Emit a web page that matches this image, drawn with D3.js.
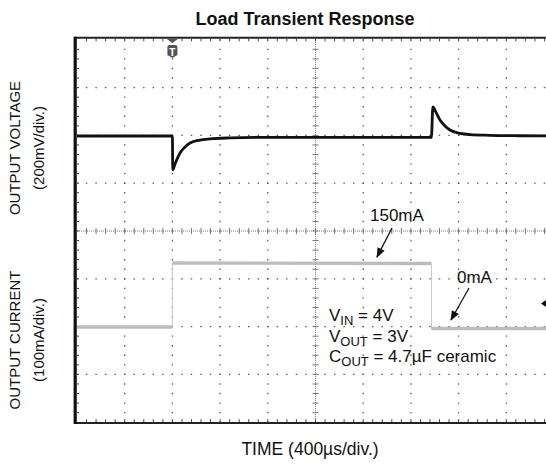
<!DOCTYPE html>
<html>
<head>
<meta charset="utf-8">
<script src="https://d3js.org/d3.v7.min.js"></script>
<style>
  body { margin: 0; background: #fff; }
  text { font-family: "Liberation Sans", Arial, sans-serif; fill: #111; }
</style>
</head>
<body>
<svg id="chart" width="546" height="468"></svg>
<script>
// time axis (us), 400us/div, 10 divisions
var timeDomain = [0, 4000];

// output voltage deviation (mV), 200mV/div
var voltT  = [0, 800, 803, 822, 864, 906, 948, 1031, 1115, 1283, 1535, 1870, 2972, 2984, 3010, 3044, 3086, 3128, 3212, 3296, 3463, 3700, 4000];
var voltMv = [0, 0, -142, -117, -71, -46, -29, -17, -12, -8, -6, -6, -6, 122, 100, 67, 42, 25, 11, 6, 3, 1, 0];

// output current (mA), 100mA/div
var currT  = [0, 800, 800, 2972, 2972, 4000];
var currMa = [0, 0, 134, 133, -3, -3];

var svg = d3.select("#chart");

var x0 = 77, y0 = 39.8, divX = 47.7, divY = 47.8;
var x = d3.scaleLinear().domain(timeDomain).range([x0, x0 + 10 * divX]);
var yV = d3.scaleLinear().domain([0, 200]).range([136, 136 - divY]);
var yI = d3.scaleLinear().domain([0, 100]).range([327, 327 - divY]);

var xR = x0 + 10 * divX, yB = y0 + 8 * divY;

// dotted graticule
var g = svg.append("g");
for (var k = 1; k < 8; k++) {
  if (k == 4) continue;
  g.append("line")
    .attr("x1", x0).attr("x2", xR)
    .attr("y1", y0 + k * divY).attr("y2", y0 + k * divY)
    .attr("stroke", "#555").attr("stroke-width", 1.3)
    .attr("stroke-dasharray", "1.4 " + (divX / 5 - 1.4))
    .attr("stroke-dashoffset", 0.7);
}
for (var k = 1; k < 10; k++) {
  if (k == 5) continue;
  g.append("line")
    .attr("y1", y0).attr("y2", yB)
    .attr("x1", x0 + k * divX).attr("x2", x0 + k * divX)
    .attr("stroke", "#555").attr("stroke-width", 1.3)
    .attr("stroke-dasharray", "1.4 " + (divY / 5 - 1.4))
    .attr("stroke-dashoffset", 0.7);
}

// center axes with minor ticks
var cy = y0 + 4 * divY, cx = x0 + 5 * divX;
g.append("line").attr("x1", x0).attr("x2", xR).attr("y1", cy).attr("y2", cy)
  .attr("stroke", "#777").attr("stroke-width", 1).attr("stroke-dasharray", "1 1");
g.append("line").attr("y1", y0).attr("y2", yB).attr("x1", cx).attr("x2", cx)
  .attr("stroke", "#777").attr("stroke-width", 1).attr("stroke-dasharray", "1 1");
for (var m = 1; m < 50; m++) {
  var px = x0 + m * divX / 5;
  g.append("line").attr("x1", px).attr("x2", px).attr("y1", cy - 3).attr("y2", cy + 3)
    .attr("stroke", "#777").attr("stroke-width", 1);
  g.append("line").attr("x1", px).attr("x2", px).attr("y1", yB - 3).attr("y2", yB)
    .attr("stroke", "#444").attr("stroke-width", 1);
  g.append("line").attr("x1", px).attr("x2", px).attr("y1", y0 - 1).attr("y2", y0 + 1.5)
    .attr("stroke", "#444").attr("stroke-width", 1);
}
for (var m = 1; m < 40; m++) {
  var py = y0 + m * divY / 5;
  g.append("line").attr("y1", py).attr("y2", py).attr("x1", cx - 3).attr("x2", cx + 3)
    .attr("stroke", "#777").attr("stroke-width", 1);
  g.append("line").attr("y1", py).attr("y2", py).attr("x1", x0).attr("x2", x0 + 2)
    .attr("stroke", "#444").attr("stroke-width", 1);
}

// frame
svg.append("line").attr("x1", 74).attr("x2", 546).attr("y1", 37.7).attr("y2", 37.7)
  .attr("stroke", "#222").attr("stroke-width", 2);
svg.append("line").attr("x1", 74).attr("x2", 546).attr("y1", 423).attr("y2", 423)
  .attr("stroke", "#222").attr("stroke-width", 2);
svg.append("line").attr("x1", 75.2).attr("x2", 75.2).attr("y1", 36.7).attr("y2", 424)
  .attr("stroke", "#111").attr("stroke-width", 3.2);

// current trace (light grey)
var currData = currT.map(function(t, i) { return [t, currMa[i]]; });
svg.append("path")
  .datum(currData)
  .attr("fill", "none").attr("stroke", "#c8c8c8").attr("stroke-width", 1)
  .attr("d", d3.line().x(function(d) { return x(d[0]); }).y(function(d) { return yI(d[1]); }));
for (var i = 0; i < currData.length - 1; i++) {
  if (currData[i][0] == currData[i + 1][0]) continue;
  svg.append("path")
    .datum([currData[i], currData[i + 1]])
    .attr("fill", "none").attr("stroke", "#bdbdbd").attr("stroke-width", 3.4)
    .attr("d", d3.line().x(function(d) { return x(d[0]); }).y(function(d) { return yI(d[1]); }));
}

// voltage trace (black)
var voltData = voltT.map(function(t, i) { return [t, voltMv[i]]; });
svg.append("path")
  .datum(voltData)
  .attr("fill", "none").attr("stroke", "#111").attr("stroke-width", 2.8)
  .attr("stroke-linejoin", "round")
  .attr("d", d3.line().curve(d3.curveMonotoneX)
    .x(function(d) { return x(d[0]); }).y(function(d) { return yV(d[1]); }));

// trigger marker
var tx = x(800);
svg.append("path")
  .attr("d", "M" + (tx - 5.5) + ",39 L" + (tx + 5.5) + ",39 L" + tx + ",43 Z")
  .attr("fill", "#555");
svg.append("path")
  .attr("d", "M" + (tx - 5) + ",47 Q" + (tx - 5) + ",45 " + (tx - 3) + ",45 L" + (tx + 3) + ",45 Q" + (tx + 5) + ",45 " + (tx + 5) + ",47 L" +
    (tx + 5) + ",55 L" + tx + ",58 L" + (tx - 5) + ",55 Z")
  .attr("fill", "#555");
svg.append("text").attr("x", tx).attr("y", 55.5).attr("text-anchor", "middle")
  .style("font-size", "10px").style("font-weight", "bold").style("fill", "#fff").text("T");

// channel marker on right
svg.append("path").attr("d", "M541,303.5 L546,300 L546,307 Z").attr("fill", "#111");

// arrow marker
svg.append("defs").append("marker")
  .attr("id", "ah").attr("viewBox", "0 0 10 10").attr("refX", 9).attr("refY", 5)
  .attr("markerWidth", 11).attr("markerHeight", 10).attr("markerUnits", "userSpaceOnUse")
  .attr("orient", "auto")
  .append("path").attr("d", "M0,1 L10,5 L0,9 Z").attr("fill", "#111");

svg.append("line").attr("x1", 392).attr("y1", 228).attr("x2", 377).attr("y2", 257)
  .attr("stroke", "#111").attr("stroke-width", 1.3).attr("marker-end", "url(#ah)");
svg.append("line").attr("x1", 469).attr("y1", 288).attr("x2", 451).attr("y2", 320)
  .attr("stroke", "#111").attr("stroke-width", 1.3).attr("marker-end", "url(#ah)");

// annotation text
var fs = "17px";
svg.append("text").attr("x", 370).attr("y", 221).style("font-size", fs).text("150mA");
svg.append("text").attr("x", 457).attr("y", 283).style("font-size", fs).text("0mA");

function subText(xp, yp, main, sub, rest) {
  var t = svg.append("text").attr("x", xp).attr("y", yp).style("font-size", fs);
  t.append("tspan").text(main);
  t.append("tspan").attr("dy", 4).style("font-size", "13px").text(sub);
  t.append("tspan").attr("dy", -4).text(rest);
}
subText(329, 321, "V", "IN", " = 4V");
subText(329, 341.5, "V", "OUT", " = 3V");
subText(329, 362, "C", "OUT", " = 4.7\u00b5F ceramic");

// titles
svg.append("text").attr("x", 305).attr("y", 25).attr("text-anchor", "middle")
  .style("font-size", "18px").style("font-weight", "bold").text("Load Transient Response");
svg.append("text").attr("x", 310).attr("y", 455).attr("text-anchor", "middle")
  .style("font-size", "17.5px").text("TIME (400\u00b5s/div.)");

function yLabel(cxp, cyp, s) {
  svg.append("text").attr("transform", "translate(" + cxp + "," + cyp + ") rotate(-90)")
    .attr("text-anchor", "middle").attr("dy", "0.35em")
    .style("font-size", "15px").text(s);
}
yLabel(15, 148, "OUTPUT VOLTAGE");
yLabel(39, 148, "(200mV/div.)");
yLabel(15, 340, "OUTPUT CURRENT");
yLabel(39, 340, "(100mA/div.)");
</script>
</body>
</html>
